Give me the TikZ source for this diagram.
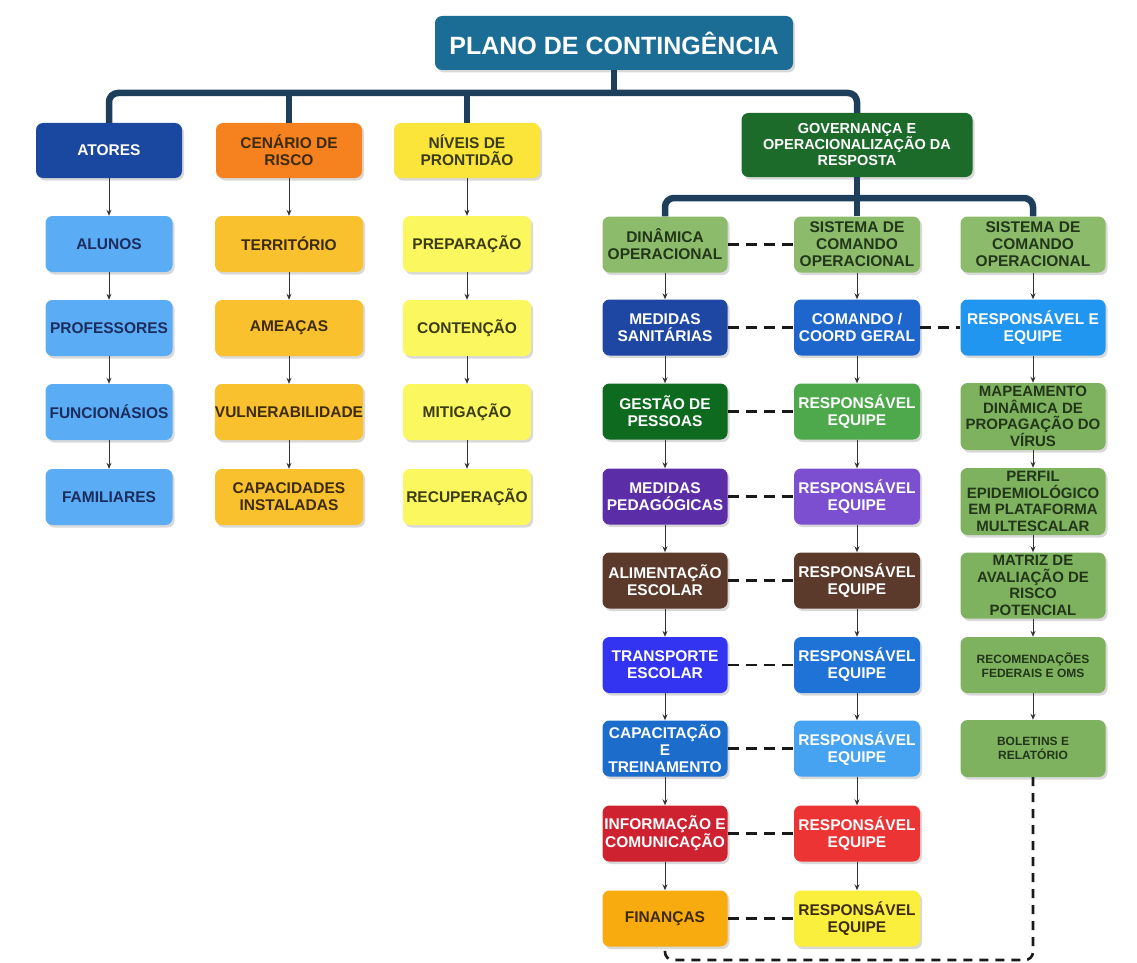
\documentclass[tikz,border=0pt]{standalone}
\usepackage{fontspec}
\setmainfont{Liberation Sans}
\usetikzlibrary{arrows.meta,shadows}

\definecolor{titlec}{HTML}{1B6D96}
\definecolor{busc}{HTML}{1E3F5C}
\definecolor{atoresc}{HTML}{1A479F}
\definecolor{cenc}{HTML}{F5821F}
\definecolor{nivc}{HTML}{FBE53B}
\definecolor{govc}{HTML}{1C6B2A}
\definecolor{lblue}{HTML}{5AACF5}
\definecolor{lorange}{HTML}{F9C12D}
\definecolor{lyellow}{HTML}{FBF75E}
\definecolor{hgreen}{HTML}{8CBB6B}
\definecolor{cgreen}{HTML}{7FB25F}
\definecolor{darknavy}{HTML}{1C2C5C}
\definecolor{darkbrown}{HTML}{3D2B0E}
\definecolor{darkolive}{HTML}{3B3B14}
\definecolor{darkgreentext}{HTML}{22361A}
\definecolor{medsan}{HTML}{1D47A3}
\definecolor{comando}{HTML}{1E66CC}
\definecolor{respe}{HTML}{2196F0}
\definecolor{gestao}{HTML}{0D6A1F}
\definecolor{respgreen}{HTML}{4EA84C}
\definecolor{medped}{HTML}{5B2EA8}
\definecolor{resppurple}{HTML}{7B4FD0}
\definecolor{brownc}{HTML}{5B3A2C}
\definecolor{transp}{HTML}{3333F2}
\definecolor{resptransp}{HTML}{1F73D6}
\definecolor{capac}{HTML}{1C6CCC}
\definecolor{respcapac}{HTML}{45A3F2}
\definecolor{info}{HTML}{CF2230}
\definecolor{respinfo}{HTML}{EC3434}
\definecolor{financ}{HTML}{F8AB0E}
\definecolor{respfin}{HTML}{F9EF3C}

\begin{document}
\begin{tikzpicture}[x=1pt,y=-1pt,
  bx/.style={draw=none, rounded corners=7pt, align=center, inner sep=0pt,
    font=\bfseries\fontsize{15.5}{17}\selectfont,
    drop shadow={opacity=0.3, shadow xshift=2pt, shadow yshift=-2.5pt}},
  lvl/.style={bx, minimum width=146pt, minimum height=55pt},
  colL/.style={bx, minimum width=127pt, minimum height=56pt, fill=lblue, text=darknavy},
  colM/.style={bx, minimum width=148pt, minimum height=56pt, fill=lorange, text=darkbrown},
  colN/.style={bx, minimum width=128pt, minimum height=56pt, fill=lyellow, text=darkolive},
  colA/.style={bx, minimum width=125pt, minimum height=56pt, text=white},
  colB/.style={bx, minimum width=126pt, minimum height=56pt, text=white},
  colC/.style={bx, minimum width=145pt, minimum height=56pt, fill=cgreen, text=darkgreentext},
  arr/.style={draw=black!80, line width=1pt, -{Stealth[length=6pt,width=5pt]}},
  dsh/.style={draw=black!90, line width=2.6pt, dash pattern=on 11pt off 7pt},
  bus/.style={draw=busc, line width=6.5pt, rounded corners=9pt}
]
\useasboundingbox (0,0) rectangle (1137,963);

% title and first level
\node[bx, fill=titlec, text=white, minimum width=358pt, minimum height=54pt,
      font=\bfseries\fontsize{25}{27}\selectfont] (title) at (614,43) {PLANO DE CONTINGÊNCIA};
\node[lvl, fill=atoresc, text=white] (atores) at (109,150.5) {ATORES};
\node[lvl, fill=cenc, text=darkbrown] (cen) at (289,150.5) {CENÁRIO DE\\RISCO};
\node[lvl, fill=nivc, text=darkolive] (niv) at (467,150.5) {NÍVEIS DE\\PRONTIDÃO};
\node[bx, fill=govc, text=white, minimum width=231pt, minimum height=64pt,
      font=\bfseries\fontsize{14.5}{16}\selectfont] (gov) at (857,145) {GOVERNANÇA E\\OPERACIONALIZAÇÃO DA\\RESPOSTA};

% left columns
\node[colL] (l0) at (109,244) {ALUNOS};
\node[colL] (l1) at (109,328) {PROFESSORES};
\node[colL] (l2) at (109,412) {FUNCIONÁSIOS};
\node[colL] (l3) at (109,497) {FAMILIARES};
\node[colM] (m0) at (289,244) {TERRITÓRIO};
\node[colM] (m1) at (289,328) {AMEAÇAS};
\node[colM] (m2) at (289,412) {VULNERABILIDADE};
\node[colM] (m3) at (289,497) {CAPACIDADES\\INSTALADAS};
\node[colN] (n0) at (467,244) {PREPARAÇÃO};
\node[colN] (n1) at (467,328) {CONTENÇÃO};
\node[colN] (n2) at (467,412) {MITIGAÇÃO};
\node[colN] (n3) at (467,497) {RECUPERAÇÃO};

% right column A
\node[colA, fill=hgreen, text=darkgreentext] (a0) at (665,244.5) {DINÂMICA\\OPERACIONAL};
\node[colA, fill=medsan] (a1) at (665,327.5) {MEDIDAS\\SANITÁRIAS};
\node[colA, fill=gestao] (a2) at (665,411.5) {GESTÃO DE\\PESSOAS};
\node[colA, fill=medped] (a3) at (665,496.5) {MEDIDAS\\PEDAGÓGICAS};
\node[colA, fill=brownc] (a4) at (665,580.5) {ALIMENTAÇÃO\\ESCOLAR};
\node[colA, fill=transp] (a5) at (665,665) {TRANSPORTE\\ESCOLAR};
\node[colA, fill=capac] (a6) at (665,748.5) {CAPACITAÇÃO\\E\\TREINAMENTO};
\node[colA, fill=info] (a7) at (665,833.5) {INFORMAÇÃO E\\COMUNICAÇÃO};
\node[colA, fill=financ, text=darkbrown] (a8) at (665,918.5) {FINANÇAS};

% right column B
\node[colB, fill=hgreen, text=darkgreentext] (b0) at (857,244.5) {SISTEMA DE\\COMANDO\\OPERACIONAL};
\node[colB, fill=comando] (b1) at (857,327.5) {COMANDO /\\COORD GERAL};
\node[colB, fill=respgreen] (b2) at (857,411.5) {RESPONSÁVEL\\EQUIPE};
\node[colB, fill=resppurple] (b3) at (857,496.5) {RESPONSÁVEL\\EQUIPE};
\node[colB, fill=brownc] (b4) at (857,580.5) {RESPONSÁVEL\\EQUIPE};
\node[colB, fill=resptransp] (b5) at (857,665) {RESPONSÁVEL\\EQUIPE};
\node[colB, fill=respcapac] (b6) at (857,748.5) {RESPONSÁVEL\\EQUIPE};
\node[colB, fill=respinfo] (b7) at (857,833.5) {RESPONSÁVEL\\EQUIPE};
\node[colB, fill=respfin, text=darkbrown] (b8) at (857,918.5) {RESPONSÁVEL\\EQUIPE};

% right column C
\node[colC, fill=hgreen] (c0) at (1033,244.5) {SISTEMA DE\\COMANDO\\OPERACIONAL};
\node[colC, fill=respe, text=white] (c1) at (1033,327.5) {RESPONSÁVEL E\\EQUIPE};
\node[colC, minimum height=67pt, font=\bfseries\fontsize{15}{16.5}\selectfont] (c2) at (1033,416.5) {MAPEAMENTO\\DINÂMICA DE\\PROPAGAÇÃO DO\\VÍRUS};
\node[colC, minimum height=67pt, font=\bfseries\fontsize{15}{16.5}\selectfont] (c3) at (1033,501.5) {PERFIL\\EPIDEMIOLÓGICO\\EM PLATAFORMA\\MULTESCALAR};
\node[colC, minimum height=66pt, font=\bfseries\fontsize{15}{16.5}\selectfont] (c4) at (1033,585.5) {MATRIZ DE\\AVALIAÇÃO DE\\RISCO\\POTENCIAL};
\node[colC, font=\bfseries\fontsize{12}{14}\selectfont] (c5) at (1033,665) {RECOMENDAÇÕES\\FEDERAIS E OMS};
\node[colC, minimum height=57pt, font=\bfseries\fontsize{12}{14}\selectfont] (c6) at (1033,748.5) {BOLETINS E\\RELATÓRIO};

% main buses
\coordinate (busA) at (0,93);
\coordinate (busB) at (0,198);
\draw[bus] (atores.north) -- (atores.north |- busA) -- (gov.north |- busA) -- (gov.north);
\draw[bus] (title.south) -- (title.south |- busA);
\draw[bus] (cen.north) -- (cen.north |- busA);
\draw[bus] (niv.north) -- (niv.north |- busA);
\draw[bus] (a0.north) -- (a0.north |- busB) -- (c0.north |- busB) -- (c0.north);
\draw[bus] (gov.south) -- (b0.north);

% arrows
\draw[arr] (atores.south) -- (l0.north);
\draw[arr] (cen.south) -- (m0.north);
\draw[arr] (niv.south) -- (n0.north);
\foreach \i/\j in {0/1,1/2,2/3} {
  \draw[arr] (l\i.south) -- (l\j.north);
  \draw[arr] (m\i.south) -- (m\j.north);
  \draw[arr] (n\i.south) -- (n\j.north);
}
\foreach \i/\j in {0/1,1/2,2/3,3/4,4/5,5/6,6/7,7/8} {
  \draw[arr] (a\i.south) -- (a\j.north);
  \draw[arr] (b\i.south) -- (b\j.north);
}
\foreach \i/\j in {0/1,1/2,2/3,3/4,4/5,5/6} {
  \draw[arr] (c\i.south) -- (c\j.north);
}

% dashed links
\foreach \i in {0,...,8} {
  \draw[dsh] (a\i.east) -- (b\i.west);
}
\draw[dsh] (b1.east) -- (c1.west);
\coordinate (busC) at (0,960);
\draw[dsh, dash pattern=on 9pt off 7pt, rounded corners=8pt] (c6.south) -- (c6.south |- busC) -- (a8.south |- busC) -- (a8.south);
\end{tikzpicture}
\end{document}
